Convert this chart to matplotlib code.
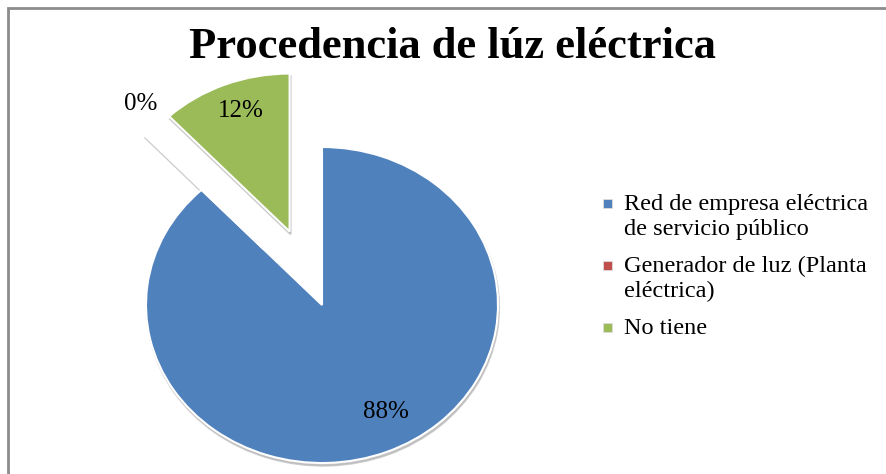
import matplotlib.pyplot as plt
import numpy as np
from matplotlib.patches import Rectangle

# datos
categorias = ['Red de empresa eléctrica\nde servicio público',
              'Generador de luz (Planta\neléctrica)',
              'No tiene']
porcentajes = [88, 0, 12]
colores = ['#4F81BD', '#C0504D', '#9BBB59']
separacion = [0, 0.48, 0.5]

W, H = 887, 474
fig = plt.figure(figsize=(W / 100, H / 100), dpi=100)
plt.rcParams['font.family'] = ['Liberation Serif', 'DejaVu Serif']

# marco gris
fig.patches.append(Rectangle((8 / W, -0.2), 1.2, 1.2 - 8 / H, transform=fig.transFigure,
                             fill=False, edgecolor='#8c8c8c', linewidth=2))

ax = fig.add_axes([0, 0, 1, 1])
cx, cy = 322, 169     # centro del pastel en pixeles (desde abajo)
rx, ry = 176, 158     # radios (elipse)

wedges, texts, autotexts = ax.pie(
    porcentajes, colors=colores, startangle=90, counterclock=False,
    explode=separacion, autopct='%1.0f%%', pctdistance=0.8,
    wedgeprops=dict(edgecolor='white', linewidth=1.5),
    shadow=dict(ox=0.004, oy=-0.012, facecolor='#b5b5b5', edgecolor='#b5b5b5', alpha=0.7),
    textprops=dict(fontsize=18, color='black'))

# posiciones de las etiquetas de porcentaje
autotexts[0].set_position((0.77 * np.cos(np.deg2rad(-62)), 0.77 * np.sin(np.deg2rad(-62))))
d0 = separacion[1] + 1.16
autotexts[1].set_position((d0 * np.cos(np.deg2rad(129)), d0 * np.sin(np.deg2rad(129))))
x2, y2 = autotexts[2].get_position()
autotexts[2].set_position((x2 + 0.02, y2 + 0.02))

ax.set_aspect('auto')
ax.set_xlim(-cx / rx, (W - cx) / rx)
ax.set_ylim(-cy / ry, (H - cy) / ry)
ax.axis('off')

fig.text(452 / W, 1 - 47 / H, 'Procedencia de lúz eléctrica', ha='center', va='center',
         fontsize=32, fontweight='bold')

# leyenda a mano: cuadro alineado con la primera linea del texto
y = 203
for cat, col in zip(categorias, colores):
    fig.patches.append(Rectangle((603 / W, 1 - (y + 4.5) / H), 9 / W, 9 / H,
                                 transform=fig.transFigure, facecolor=col,
                                 edgecolor='#dddddd', linewidth=0.6))
    fig.text(624 / W, 1 - (y - 9) / H, cat, ha='left', va='top', fontsize=17.5,
             linespacing=1.25)
    y += 25 * (cat.count('\n') + 1) + 12

fig.savefig('out.png', dpi=100)
